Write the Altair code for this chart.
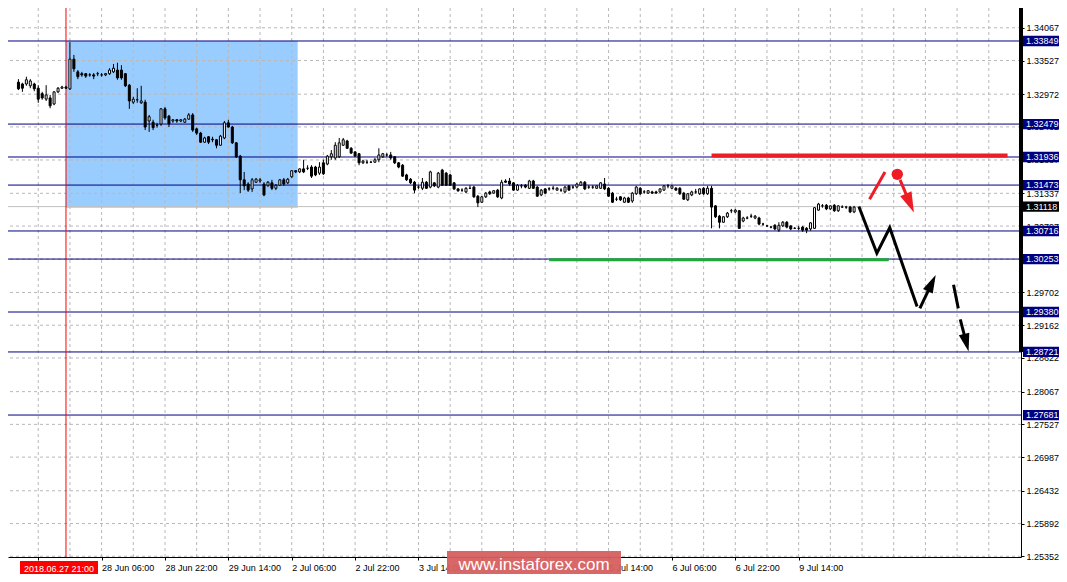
import altair as alt
import pandas as pd

FONT = "Liberation Sans"

# ---------------- candle data (H1 bars, index 0 = leftmost) ----------------
open_ = [
    1.3324, 1.3309, 1.3316, 1.3317, 1.3314, 1.3314, 1.3311, 1.3314, 1.3307, 1.3298,
    1.3289, 1.3291, 1.3281, 1.3301, 1.3307, 1.3309, 1.3306, 1.3355, 1.3334, 1.3331,
    1.3331, 1.3329, 1.3329, 1.3331, 1.3329, 1.3329, 1.3331, 1.3334, 1.3337, 1.3337,
    1.3331, 1.3312, 1.3284, 1.3288, 1.3283, 1.3284, 1.3253, 1.3251, 1.3246, 1.3248,
    1.3273, 1.3261, 1.3253, 1.3255, 1.3253, 1.3251, 1.3256, 1.3263, 1.3240, 1.3233,
    1.3218, 1.3227, 1.3223, 1.3222, 1.3213, 1.3225, 1.3250, 1.3243, 1.3217, 1.3195,
    1.3156, 1.3149, 1.3141, 1.3152, 1.3154, 1.3149, 1.3147, 1.3151, 1.3142, 1.3147,
    1.3156, 1.3151, 1.3161, 1.3171, 1.3169, 1.3174, 1.3175, 1.3177, 1.3177, 1.3167,
    1.3184, 1.3182, 1.3194, 1.3192, 1.3194, 1.3213, 1.3220, 1.3208, 1.3202, 1.3199,
    1.3184, 1.3185, 1.3185, 1.3185, 1.3189, 1.3194, 1.3197, 1.3197, 1.3194, 1.3184,
    1.3180, 1.3164, 1.3157, 1.3152, 1.3144, 1.3142, 1.3152, 1.3144, 1.3151, 1.3144,
    1.3172, 1.3167, 1.3164, 1.3151, 1.3141, 1.3139, 1.3136, 1.3142, 1.3144, 1.3129,
    1.3119, 1.3128, 1.3136, 1.3134, 1.3139, 1.3126, 1.3154, 1.3154, 1.3151, 1.3139,
    1.3146, 1.3147, 1.3142, 1.3154, 1.3144, 1.3131, 1.3141, 1.3141, 1.3142, 1.3139,
    1.3139, 1.3136, 1.3146, 1.3144, 1.3144, 1.3147, 1.3152, 1.3144, 1.3144, 1.3142,
    1.3142, 1.3149, 1.3142, 1.3134, 1.3124, 1.3128, 1.3119, 1.3126, 1.3121, 1.3133,
    1.3142, 1.3136, 1.3134, 1.3136, 1.3136, 1.3136, 1.3139, 1.3146, 1.3142, 1.3142,
    1.3142, 1.3134, 1.3123, 1.3131, 1.3136, 1.3133, 1.3142, 1.3133, 1.3142, 1.3113,
    1.3096, 1.3086, 1.3095, 1.3105, 1.3103, 1.3105, 1.3088, 1.3093, 1.3096, 1.3093,
    1.3093, 1.3083, 1.3080, 1.3078, 1.3081, 1.3073, 1.3080, 1.3086, 1.3080, 1.3076,
    1.3076, 1.3078, 1.3076, 1.3075, 1.3076, 1.3106, 1.3113, 1.3114, 1.3108, 1.3114,
    1.3105, 1.3111, 1.3111, 1.3111, 1.3103,
]
close = [
    1.3316, 1.3314, 1.3317, 1.3306, 1.3307, 1.3321, 1.3319, 1.3306, 1.3289, 1.3291,
    1.3296, 1.3278, 1.3301, 1.3307, 1.3309, 1.3307, 1.3355, 1.3339, 1.3326, 1.3329,
    1.3327, 1.3329, 1.3327, 1.3331, 1.3329, 1.3331, 1.3337, 1.3340, 1.3324, 1.3324,
    1.3311, 1.3286, 1.3289, 1.3288, 1.3286, 1.3243, 1.3260, 1.3242, 1.3246, 1.3273,
    1.3258, 1.3248, 1.3255, 1.3253, 1.3255, 1.3256, 1.3263, 1.3238, 1.3233, 1.3218,
    1.3225, 1.3218, 1.3222, 1.3213, 1.3228, 1.3250, 1.3243, 1.3217, 1.3194, 1.3156,
    1.3146, 1.3139, 1.3156, 1.3157, 1.3156, 1.3131, 1.3152, 1.3142, 1.3147, 1.3156,
    1.3149, 1.3157, 1.3171, 1.3169, 1.3174, 1.3169, 1.3175, 1.3162, 1.3164, 1.3177,
    1.3166, 1.3195, 1.3199, 1.3213, 1.3217, 1.3222, 1.3208, 1.3200, 1.3195, 1.3184,
    1.3187, 1.3185, 1.3185, 1.3189, 1.3197, 1.3199, 1.3197, 1.3192, 1.3184, 1.3177,
    1.3162, 1.3156, 1.3151, 1.3139, 1.3144, 1.3152, 1.3142, 1.3169, 1.3146, 1.3167,
    1.3147, 1.3147, 1.3147, 1.3141, 1.3138, 1.3139, 1.3142, 1.3142, 1.3128, 1.3118,
    1.3128, 1.3134, 1.3133, 1.3138, 1.3128, 1.3152, 1.3152, 1.3149, 1.3139, 1.3147,
    1.3146, 1.3144, 1.3154, 1.3142, 1.3129, 1.3139, 1.3134, 1.3141, 1.3142, 1.3142,
    1.3139, 1.3144, 1.3139, 1.3144, 1.3149, 1.3152, 1.3141, 1.3144, 1.3144, 1.3146,
    1.3151, 1.3141, 1.3129, 1.3119, 1.3124, 1.3123, 1.3126, 1.3119, 1.3134, 1.3144,
    1.3133, 1.3136, 1.3138, 1.3134, 1.3134, 1.3141, 1.3146, 1.3146, 1.3146, 1.3139,
    1.3133, 1.3124, 1.3133, 1.3136, 1.3136, 1.3141, 1.3133, 1.3142, 1.3111, 1.3095,
    1.3086, 1.3095, 1.3101, 1.3105, 1.3106, 1.3076, 1.3093, 1.3093, 1.3096, 1.3096,
    1.3083, 1.3083, 1.3080, 1.3078, 1.3075, 1.3081, 1.3086, 1.3078, 1.3075, 1.3076,
    1.3076, 1.3073, 1.3073, 1.3085, 1.3110, 1.3116, 1.3113, 1.3108, 1.3113, 1.3105,
    1.3113, 1.3111, 1.3111, 1.3103, 1.3111,
]
high = [
    1.3327, 1.3317, 1.3321, 1.3322, 1.3316, 1.3326, 1.3322, 1.3316, 1.3312, 1.3301,
    1.3312, 1.3296, 1.3302, 1.3309, 1.3311, 1.3311, 1.3383, 1.3362, 1.3337, 1.3334,
    1.3332, 1.3332, 1.3332, 1.3334, 1.3332, 1.3332, 1.3340, 1.3347, 1.3349, 1.3345,
    1.3332, 1.3314, 1.3293, 1.3307, 1.3311, 1.3288, 1.3263, 1.3255, 1.3250, 1.3274,
    1.3276, 1.3263, 1.3256, 1.3256, 1.3256, 1.3258, 1.3266, 1.3266, 1.3242, 1.3235,
    1.3227, 1.3228, 1.3227, 1.3223, 1.3230, 1.3253, 1.3255, 1.3245, 1.3218, 1.3197,
    1.3169, 1.3152, 1.3159, 1.3159, 1.3159, 1.3152, 1.3154, 1.3156, 1.3149, 1.3157,
    1.3159, 1.3159, 1.3172, 1.3172, 1.3175, 1.3189, 1.3180, 1.3180, 1.3179, 1.3185,
    1.3189, 1.3197, 1.3205, 1.3218, 1.3225, 1.3225, 1.3222, 1.3210, 1.3203, 1.3200,
    1.3189, 1.3189, 1.3187, 1.3192, 1.3208, 1.3200, 1.3200, 1.3202, 1.3195, 1.3185,
    1.3182, 1.3166, 1.3159, 1.3154, 1.3147, 1.3159, 1.3154, 1.3171, 1.3152, 1.3169,
    1.3174, 1.3169, 1.3166, 1.3152, 1.3142, 1.3142, 1.3144, 1.3147, 1.3146, 1.3131,
    1.3129, 1.3136, 1.3138, 1.3139, 1.3141, 1.3156, 1.3157, 1.3159, 1.3152, 1.3149,
    1.3149, 1.3149, 1.3156, 1.3156, 1.3146, 1.3141, 1.3142, 1.3144, 1.3146, 1.3144,
    1.3142, 1.3146, 1.3147, 1.3147, 1.3151, 1.3154, 1.3154, 1.3147, 1.3147, 1.3147,
    1.3152, 1.3159, 1.3144, 1.3136, 1.3128, 1.3129, 1.3128, 1.3128, 1.3136, 1.3146,
    1.3144, 1.3139, 1.3139, 1.3138, 1.3138, 1.3142, 1.3147, 1.3149, 1.3147, 1.3144,
    1.3144, 1.3136, 1.3134, 1.3138, 1.3141, 1.3142, 1.3144, 1.3146, 1.3146, 1.3114,
    1.3098, 1.3096, 1.3103, 1.3108, 1.3108, 1.3106, 1.3095, 1.3096, 1.3100, 1.3098,
    1.3095, 1.3085, 1.3081, 1.3080, 1.3083, 1.3086, 1.3088, 1.3088, 1.3081, 1.3078,
    1.3080, 1.3080, 1.3078, 1.3086, 1.3111, 1.3118, 1.3116, 1.3116, 1.3114, 1.3116,
    1.3114, 1.3114, 1.3113, 1.3113, 1.3113,
]
low = [
    1.3312, 1.3306, 1.3312, 1.3304, 1.3301, 1.3311, 1.3307, 1.3302, 1.3283, 1.3288,
    1.3286, 1.3274, 1.3279, 1.3299, 1.3306, 1.3306, 1.3304, 1.3334, 1.3322, 1.3326,
    1.3324, 1.3326, 1.3322, 1.3327, 1.3326, 1.3327, 1.3329, 1.3332, 1.3321, 1.3321,
    1.3309, 1.3273, 1.3281, 1.3283, 1.3281, 1.3238, 1.3235, 1.3238, 1.3242, 1.3245,
    1.3255, 1.3243, 1.3250, 1.3250, 1.3251, 1.3250, 1.3255, 1.3235, 1.3230, 1.3217,
    1.3217, 1.3215, 1.3218, 1.3208, 1.3212, 1.3223, 1.3242, 1.3215, 1.3192, 1.3134,
    1.3139, 1.3136, 1.3136, 1.3151, 1.3151, 1.3129, 1.3144, 1.3139, 1.3139, 1.3146,
    1.3146, 1.3149, 1.3159, 1.3167, 1.3167, 1.3167, 1.3172, 1.3159, 1.3162, 1.3164,
    1.3164, 1.3180, 1.3189, 1.3189, 1.3192, 1.3212, 1.3207, 1.3199, 1.3194, 1.3180,
    1.3182, 1.3182, 1.3184, 1.3184, 1.3185, 1.3192, 1.3194, 1.3189, 1.3182, 1.3175,
    1.3161, 1.3154, 1.3149, 1.3134, 1.3141, 1.3139, 1.3141, 1.3142, 1.3144, 1.3142,
    1.3146, 1.3146, 1.3146, 1.3139, 1.3136, 1.3136, 1.3134, 1.3141, 1.3126, 1.3111,
    1.3118, 1.3126, 1.3131, 1.3133, 1.3126, 1.3124, 1.3151, 1.3146, 1.3138, 1.3138,
    1.3142, 1.3142, 1.3141, 1.3141, 1.3128, 1.3129, 1.3133, 1.3138, 1.3139, 1.3138,
    1.3136, 1.3134, 1.3138, 1.3141, 1.3142, 1.3146, 1.3139, 1.3141, 1.3141, 1.3141,
    1.3141, 1.3139, 1.3128, 1.3118, 1.3121, 1.3121, 1.3118, 1.3118, 1.3118, 1.3131,
    1.3131, 1.3133, 1.3133, 1.3133, 1.3133, 1.3134, 1.3138, 1.3142, 1.3141, 1.3138,
    1.3131, 1.3123, 1.3121, 1.3129, 1.3133, 1.3131, 1.3131, 1.3131, 1.3076, 1.3093,
    1.3076, 1.3085, 1.3093, 1.3101, 1.3101, 1.3075, 1.3086, 1.3091, 1.3093, 1.3091,
    1.3081, 1.3080, 1.3078, 1.3076, 1.3073, 1.3070, 1.3078, 1.3076, 1.3073, 1.3075,
    1.3073, 1.3070, 1.3068, 1.3072, 1.3075, 1.3105, 1.3110, 1.3106, 1.3106, 1.3103,
    1.3103, 1.3110, 1.3108, 1.3101, 1.3101,
]

# ---------------- levels, ticks, labels ----------------
level_prices = [1.33849, 1.32479, 1.31936, 1.31473, 1.30716, 1.30253, 1.29380, 1.28721, 1.27681]
current_price = 1.31118
ytick_values = [1.34067, 1.33527, 1.32972, 1.32432, 1.31887, 1.31337, 1.30797, 1.30252,
                1.29702, 1.29162, 1.28622, 1.28067, 1.27527, 1.26987, 1.26432, 1.25892, 1.25352]
xtick_bars = [8, 24, 40, 56, 72, 88, 104, 120, 136, 152, 168, 184, 200]
# labels fully covered by the date tag / watermark in the original are left blank
xtick_labels = ["", "28 Jun 06:00", "28 Jun 22:00", "29 Jun 14:00", "2 Jul 06:00",
                "2 Jul 22:00", "3 Jul 14:00", "", "", "5 Jul 14:00",
                "6 Jul 06:00", "6 Jul 22:00", "9 Jul 14:00"]
grid_bars = [8 + 8 * m for m in range(31)]

# zone box (bar index from/to, price top/bottom)
zone_bars = [15, 73.5]
zone_prices = [1.3385, 1.3110]
# marked bar (2018.06.27 21:00)
marker_bar = 15
# support (green) and resistance (red) segments
green_bars = [137, 222.75]
green_price = 1.3024
red_bars = [178, 252.75]
red_price = 1.3196
# forecast path (black)
proj_k = [215.2, 219.75, 223.0, 229.9, 230.6, 233.95, 239.1, 240.3, 240.8, 242.5]
proj_p = [1.3112, 1.3035, 1.3077, 1.2947, 1.2944, 1.2990, 1.2983, 1.2944, 1.2926, 1.2883]
proj_seg = [0, 0, 0, 0, 1, 1, 2, 2, 3, 3]
black_head_k = [234.6, 242.9]
black_head_p = [1.2999, 1.2873]
black_head_ang = [25.7, 165.5]
# alternative path (red)
alt_k = [217.9, 221.8, 225.6, 228.5]
alt_p = [1.3124, 1.3169, 1.3156, 1.3111]
alt_seg = [0, 0, 1, 1]
red_head_k = [229.1]
red_head_p = [1.3102]
red_head_ang = [156.8]
red_dot_k = [224.9]
red_dot_p = [1.3165]

PW, PH = 1013, 549
PAD_R, PAD_B = 38, 17
X_DOMAIN = [1.625, 1.625 + PW / 4]
Y_DOMAIN = [1.25340, 1.34393]

xs = alt.Scale(domain=X_DOMAIN, nice=False, zero=False)
ys = alt.Scale(domain=Y_DOMAIN, nice=False, zero=False)

label_js = "[" + ",".join("'" + s + "'" for s in xtick_labels) + "]"
x_axis = alt.Axis(values=xtick_bars, labelExpr=label_js + "[round((datum.value - 8) / 16)]",
                  grid=False, domainColor="black", tickColor="black", tickSize=3,
                  labelAlign="left", labelPadding=3, labelBaseline="top",
                  labelFont=FONT, labelFontSize=9, labelColor="black",
                  labelFlush=False, labelOverlap=False, title=None)
y_axis = alt.Axis(orient="right", values=ytick_values, format=".5f", grid=False,
                  domainColor="black", tickColor="black", tickSize=3, labelPadding=2,
                  labelFont=FONT, labelFontSize=9, labelColor="black", labelBaseline="middle",
                  labelFlush=False, labelOverlap=False, title=None)


def X(f):
    return alt.X(f + ":Q", scale=xs, axis=x_axis, title=None)


def Y(f):
    return alt.Y(f + ":Q", scale=ys, axis=y_axis, title=None)


candles = pd.DataFrame({"k": list(range(len(open_))), "o": open_, "h": high, "l": low, "c": close})
visible = f"datum.k >= {X_DOMAIN[0] + 0.5}"

zone = alt.Chart(pd.DataFrame({"k0": [zone_bars[0]], "k1": [zone_bars[1]],
                               "p0": [zone_prices[0]], "p1": [zone_prices[1]]})).mark_rect(
    color="#99CCFF").encode(x=X("k0"), x2="k1", y=Y("p0"), y2="p1")

vgrid = alt.Chart(pd.DataFrame({"k": grid_bars})).mark_rule(
    color="#B8B8B8", strokeDash=[3, 3], strokeWidth=1).encode(x=X("k"))
hgrid = alt.Chart(pd.DataFrame({"p": ytick_values})).mark_rule(
    color="#B8B8B8", strokeDash=[3, 3], strokeWidth=1).encode(y=Y("p"))

levels = alt.Chart(pd.DataFrame({"p": level_prices})).mark_rule(
    color="#000080", strokeWidth=1).encode(y=Y("p"))
cur = alt.Chart(pd.DataFrame({"p": [current_price]})).mark_rule(
    color="#C0C0C0", strokeWidth=1).encode(y=Y("p"))

vline = alt.Chart(pd.DataFrame({"k": [marker_bar]})).mark_rule(
    color="#FF0000", strokeWidth=1).encode(x=X("k"))

green = alt.Chart(pd.DataFrame({"k0": [green_bars[0]], "k1": [green_bars[1]], "p": [green_price]})).mark_rule(
    color="#1FA83A", strokeWidth=3).encode(x=X("k0"), x2="k1", y=Y("p"))
redline = alt.Chart(pd.DataFrame({"k0": [red_bars[0]], "k1": [red_bars[1]], "p": [red_price]})).mark_rule(
    color="#EE1C25", strokeWidth=4).encode(x=X("k0"), x2="k1", y=Y("p"))

wicks = alt.Chart(candles).transform_filter(visible).mark_rule(color="black", strokeWidth=1).encode(
    x=X("k"), y=Y("l"), y2="h")
bodies = alt.Chart(candles).transform_filter(visible).mark_bar(
    width=2, stroke="black", strokeWidth=1).encode(
    x=X("k"), y=Y("o"), y2="c",
    fill=alt.condition("datum.c >= datum.o", alt.value("white"), alt.value("black")))

ARROW = "M0,0 L0.6,2 L-0.6,2 Z"

proj = alt.Chart(pd.DataFrame({"k": proj_k, "p": proj_p, "s": proj_seg,
                               "i": list(range(len(proj_k)))})).mark_line(
    color="black", strokeWidth=3).encode(x=X("k"), y=Y("p"), detail="s:N", order="i:Q")
black_heads = alt.Chart(pd.DataFrame({"k": black_head_k, "p": black_head_p, "a": black_head_ang})).mark_point(
    shape=ARROW, size=324, filled=True, color="black", opacity=1).encode(
    x=X("k"), y=Y("p"), angle=alt.Angle("a:Q", scale=None))

altp = alt.Chart(pd.DataFrame({"k": alt_k, "p": alt_p, "s": alt_seg,
                               "i": list(range(len(alt_k)))})).mark_line(
    color="#EE1C25", strokeWidth=3).encode(x=X("k"), y=Y("p"), detail="s:N", order="i:Q")
red_heads = alt.Chart(pd.DataFrame({"k": red_head_k, "p": red_head_p, "a": red_head_ang})).mark_point(
    shape=ARROW, size=420, filled=True, color="#EE1C25", opacity=1).encode(
    x=X("k"), y=Y("p"), angle=alt.Angle("a:Q", scale=None))
red_dot = alt.Chart(pd.DataFrame({"k": red_dot_k, "p": red_dot_p})).mark_circle(
    size=130, color="#EE1C25", opacity=1).encode(x=X("k"), y=Y("p"))

thick_axis = alt.Chart(pd.DataFrame({"p0": [Y_DOMAIN[1]], "p1": [level_prices[7]]})).mark_rule(
    color="black", strokeWidth=4).encode(x=alt.value(PW), y=Y("p0"), y2="p1")

# price label boxes on the right scale
box_prices = level_prices + [current_price]
boxes_df = pd.DataFrame({
    "p": box_prices,
    "txt": [f"{p:.5f}" for p in box_prices],
    "bg": ["#000080"] * len(level_prices) + ["#000000"],
})
boxes_df["hi"] = boxes_df["p"] + 0.00085
boxes_df["lo"] = boxes_df["p"] - 0.00085
boxes = alt.Chart(boxes_df).mark_rect().encode(
    x=alt.value(PW + 2), x2=alt.value(PW + PAD_R), y=Y("hi"), y2="lo",
    color=alt.Color("bg:N", scale=None))
box_txt = alt.Chart(boxes_df).mark_text(align="left", baseline="middle", font=FONT,
                                        fontSize=9, color="white").encode(
    x=alt.value(PW + 5), y=Y("p"), text="txt:N")

# date marker label and watermark
date_df = pd.DataFrame({"t": ["2018.06.27 21:00"]})
date_box = alt.Chart(date_df).mark_rect(color="#FF0000").encode(
    x=alt.value(12), x2=alt.value(90), y=alt.value(PH + 4), y2=alt.value(PH + 19))
date_txt = alt.Chart(date_df).mark_text(align="center", baseline="middle", font=FONT,
                                        fontSize=9, color="white").encode(
    x=alt.value(51), y=alt.value(PH + 11.5), text="t:N")

wm_df = pd.DataFrame({"t": ["www.instaforex.com"]})
wm_box = alt.Chart(wm_df).mark_rect(color="#D65F5F", opacity=0.95).encode(
    x=alt.value(439), x2=alt.value(613), y=alt.value(PH - 6), y2=alt.value(PH + PAD_B))
wm_txt = alt.Chart(wm_df).mark_text(align="center", baseline="middle", font=FONT,
                                    fontSize=17, color="white").encode(
    x=alt.value(526), y=alt.value(PH + 8), text="t:N")

chart = alt.layer(
    zone, vgrid, hgrid, levels, cur, vline, green, redline,
    wicks, bodies, proj, black_heads, altp, red_heads, red_dot,
    thick_axis, boxes, box_txt, date_box, date_txt, wm_box, wm_txt,
).properties(
    width=PW, height=PH,
    autosize=alt.AutoSizeParams(type="none"),
    padding={"left": 0, "top": 0, "right": PAD_R, "bottom": PAD_B},
    background="white",
).configure_view(stroke=None)

chart.save("out.html", embed_options={"renderer": "svg", "actions": False})
